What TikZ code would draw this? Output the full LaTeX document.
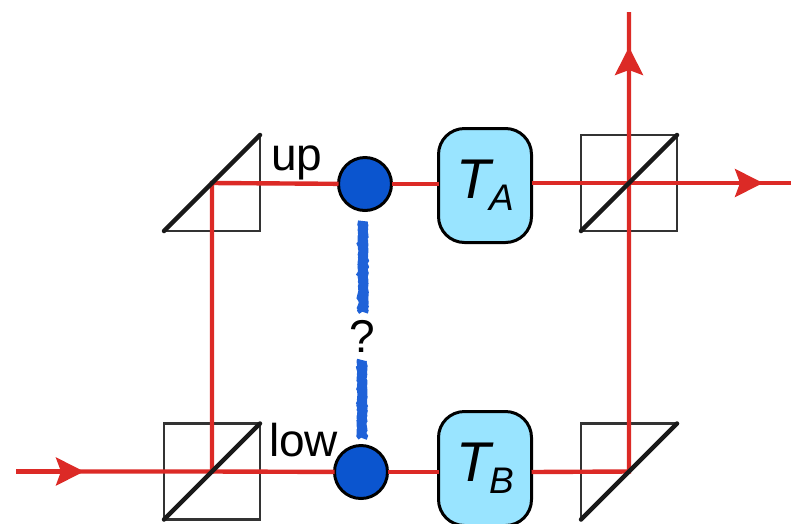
\documentclass[tikz,border=0pt]{standalone}
\usepackage{fontspec}
\setmainfont{Liberation Sans}
\usetikzlibrary{arrows.meta,decorations.pathmorphing}

\definecolor{rayred}{HTML}{DC2A26}
\definecolor{dotblue}{HTML}{0B55CF}
\definecolor{linkblue}{HTML}{1F62D8}
\definecolor{boxcyan}{HTML}{99E4FF}

\tikzset{
  plate/.style={minimum size=96pt, inner sep=0pt, outer sep=0pt},
  face/.style={draw=black!80, line width=2.4pt},
  mirrorline/.style={draw=black!90, line width=4.5pt, line cap=round},
  ray/.style={draw=rayred, line width=4.4pt},
  rayhead/.style={-{Stealth[length=28pt,width=28pt,inset=5pt]}, color=rayred, line width=4.4pt},
  detector/.style={circle, draw=black, line width=3pt, fill=dotblue, minimum size=53pt, inner sep=0pt, outer sep=0pt},
  gate/.style={draw=black, line width=3pt, fill=boxcyan, rounded corners=26pt, minimum width=93pt, minimum height=114pt, inner sep=0pt, outer sep=0pt},
  link/.style={draw=linkblue, line width=10pt, decorate, decoration={random steps, segment length=1.5pt, amplitude=0.6pt}},
  lbl/.style={font=\fontsize{46}{50}\selectfont, inner sep=0pt},
}
% (name, position)
\newcommand{\cube}[2]{
    \node[plate, face] (#1) at (#2) {};
}
\newcommand{\diagonal}[1]{
    \draw[mirrorline] (#1.south west) -- (#1.north east);
}
% (name, position, letter)
\newcommand{\gatebox}[3]{
    \node[gate] (#1) at (#2) {\fontsize{56}{60}\selectfont\itshape T\kern-1pt\raisebox{-12pt}{\fontsize{37}{40}\selectfont #3}};
}

\begin{document}
\begin{tikzpicture}[x=1pt, y=-1pt]
  \useasboundingbox (0,0) rectangle (791,523);

  \node[plate] (mirrorUp) at (212,183) {};
  \cube{cubeLow}{212,471.5}
  \cube{cubeOut}{629,183}
  \node[plate] (mirrorOut) at (629,471.5) {};

  \node[detector] (up) at (365,184) {};
  \node[detector] (low) at (361,472) {};
  \gatebox{gateA}{485,185.5}{A}
  \gatebox{gateB}{485,468.5}{B}

  \coordinate (inStart) at (16,471.5);
  \coordinate (inTip) at (84,471.5);
  \coordinate (outRight) at (791,183);
  \coordinate (outRightTip) at (763,183);
  \coordinate (outUp) at (629,12);
  \coordinate (outUpTip) at (629,47);

  % thin faces of the two mirrors
  \draw[face] (mirrorUp.north east) -- (mirrorUp.south east) -- (mirrorUp.south west);
  \draw[face] (mirrorOut.south west) -- (mirrorOut.north west) -- (mirrorOut.north east);

  % upper arm
  \draw[ray] (inStart) -- (cubeLow.center) -- (mirrorUp.center) -- (up);
  \draw[ray] (up) -- (up -| gateA.west);
  \draw[ray] (cubeOut.center -| gateA.east) -- (cubeOut.center) -- (outRight);

  % lower arm
  \draw[ray] (cubeLow.center) -- (low);
  \draw[ray] (low) -- (low -| gateB.west);
  \draw[ray] (low -| gateB.east) -- (mirrorOut.center) -- (cubeOut.center) -- (outUp);

  \draw[rayhead] (inStart) -- (inTip);
  \draw[rayhead] (cubeOut.center) -- (outRightTip);
  \draw[rayhead] (cubeOut.center) -- (outUpTip);

  \diagonal{mirrorUp}
  \diagonal{cubeLow}
  \diagonal{cubeOut}
  \diagonal{mirrorOut}

  \node[lbl, anchor=base west] (upLabel) at (271,170) {up};
  \node[lbl, anchor=base west] (lowLabel) at (269,456) {low};
  \node[lbl] (query) at (362,336) {?};

  \coordinate (upEnd) at (363,221);
  \coordinate (upStop) at (363,312);
  \coordinate (lowStart) at (362,360);
  \coordinate (lowEnd) at (362,438);
  \draw[link] (upEnd) -- (upStop);
  \draw[link] (lowStart) -- (lowEnd);

\end{tikzpicture}
\end{document}
